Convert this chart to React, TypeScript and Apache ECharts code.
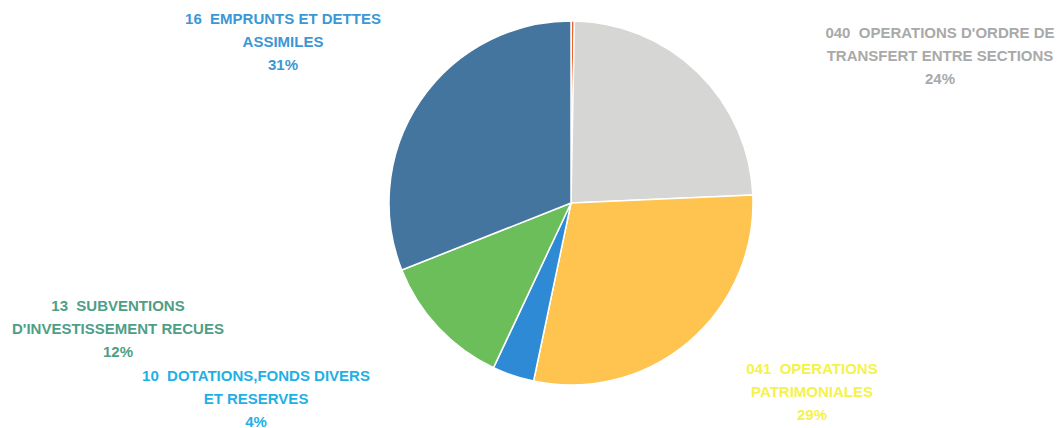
import React, { useEffect, useRef } from "react";
import * as echarts from "echarts";

const categories = [
  "ORANGE",
  "040  OPERATIONS D'ORDRE DE\nTRANSFERT ENTRE SECTIONS",
  "041  OPERATIONS\nPATRIMONIALES",
  "10  DOTATIONS,FONDS DIVERS\nET RESERVES",
  "13  SUBVENTIONS\nD'INVESTISSEMENT RECUES",
  "16  EMPRUNTS ET DETTES\nASSIMILES",
];
const values = [0.3, 24.0, 29.0, 3.7, 12.0, 31.0];
const colors = ["#f0632a", "#d6d6d4", "#fec44f", "#2f8ad6", "#6cbe5a", "#44759f"];
const labelColors = ["#f0632a", "#a9a9a9", "#f5f24a", "#1fb0e6", "#4f9e86", "#3c97d6"];
const showLabel = [false, true, true, true, true, true];

// label block centers (layout only)
const LABEL_POS = [
  [571, 10],
  [940, 55],
  [812, 391],
  [256, 398],
  [118, 328],
  [283, 41],
];

export default function App() {
  const ref = useRef<HTMLDivElement>(null);
  useEffect(() => {
    document.body.style.margin = "0";
    const chart = echarts.init(ref.current!, null, { renderer: "svg" });
    chart.setOption({
      animation: false,
      backgroundColor: "#ffffff",
      series: [
        {
          type: "pie",
          center: [571, 203],
          radius: 182,
          startAngle: 90,
          clockwise: true,
          avoidLabelOverlap: false,
          itemStyle: { borderColor: "#ffffff", borderWidth: 1.5 },
          labelLine: { show: false },
          label: {
            show: true,
            position: "outside",
            fontFamily: "Liberation Sans",
            fontWeight: "bold",
            fontSize: 15,
            lineHeight: 23,
            align: "center",
            formatter: (p: any) => `${p.name}\n${Math.round(p.percent)}%`,
          },
          labelLayout: (params: any) => {
            const pos = LABEL_POS[params.dataIndex];
            return { x: pos[0], y: pos[1], align: "center", verticalAlign: "middle" };
          },
          data: categories.map((name, i) => ({
            name,
            value: values[i],
            itemStyle: { color: colors[i] },
            label: { show: showLabel[i], color: labelColors[i] },
          })),
        },
      ],
    });
    return () => chart.dispose();
  }, []);
  return <div ref={ref} style={{ width: 1061, height: 428 }} />;
}
